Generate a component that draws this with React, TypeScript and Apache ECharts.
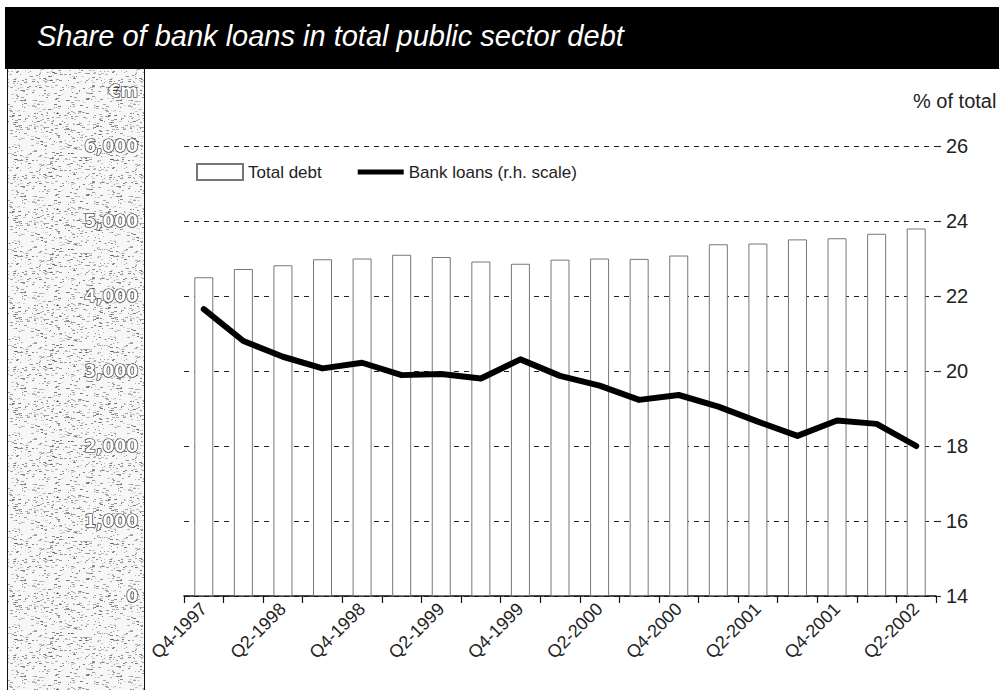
import { useEffect, useRef } from 'react';
import * as echarts from 'echarts';

const categories = [
  'Q4-1997', 'Q1-1998', 'Q2-1998', 'Q3-1998', 'Q4-1998', 'Q1-1999', 'Q2-1999',
  'Q3-1999', 'Q4-1999', 'Q1-2000', 'Q2-2000', 'Q3-2000', 'Q4-2000', 'Q1-2001',
  'Q2-2001', 'Q3-2001', 'Q4-2001', 'Q1-2002', 'Q2-2002',
];
const totalDebt = [
  4250, 4360, 4410, 4490, 4500, 4550, 4520, 4460, 4430, 4485,
  4500, 4495, 4540, 4690, 4700, 4755, 4770, 4830, 4900,
];
const bankLoansShare = [
  21.65, 20.8, 20.38, 20.07, 20.22, 19.89, 19.92, 19.8, 20.31, 19.87,
  19.61, 19.23, 19.36, 19.05, 18.65, 18.27, 18.68, 18.59, 18.0,
];
const leftTickLabels = ['0', '1,000', '2,000', '3,000', '4,000', '5,000', '6,000'];
const rightTickLabels = ['14', '16', '18', '20', '22', '24', '26'];

const titleText = 'Share of bank loans in total public sector debt';
const leftUnit = '€m';
const rightUnit = '% of total';
const barName = 'Total debt';
const lineName = 'Bank loans (r.h. scale)';

function makeSpeckle(): string {
  const size = 96;
  const c = document.createElement('canvas');
  c.width = size;
  c.height = size;
  const ctx = c.getContext('2d');
  if (!ctx) return '';
  ctx.fillStyle = '#f7f7f7';
  ctx.fillRect(0, 0, size, size);
  let s = 20240607;
  const next = () => {
    s = (Math.imul(s, 1103515245) + 12345) & 0x7fffffff;
    return s / 0x7fffffff;
  };
  ctx.fillStyle = '#444';
  for (let k = 0; k < 650; k++) {
    const x = Math.floor(next() * size);
    const y = Math.floor(next() * size);
    const w = 1 + Math.floor(next() * 3);
    ctx.globalAlpha = 0.2 + 0.5 * next();
    ctx.fillRect(x, y, w, 1);
  }
  return c.toDataURL();
}

const outlinedLabel = {
  fontFamily: 'DejaVu Sans',
  fontWeight: 'bold' as const,
  fontSize: 17,
  color: '#ffffff',
  textBorderColor: '#111111',
  textBorderWidth: 1.2,
};

export default function App() {
  const ref = useRef<HTMLDivElement>(null);

  useEffect(() => {
    if (!ref.current) return;
    const chart = echarts.init(ref.current, undefined, { renderer: 'svg' });
    const speckle = makeSpeckle();

    chart.setOption({
      animation: false,
      backgroundColor: '#ffffff',
      textStyle: { fontFamily: 'Liberation Sans' },
      grid: {
        left: 184,
        right: 63,
        top: 146,
        bottom: 94,
        containLabel: false,
        outerBoundsMode: 'none',
      },
      legend: {
        left: 196,
        top: 163,
        padding: 0,
        itemWidth: 46,
        itemHeight: 16,
        itemGap: 36,
        selectedMode: false,
        textStyle: { fontSize: 17, color: '#222', fontFamily: 'Liberation Sans' },
        data: [
          { name: barName, icon: 'rect' },
          { name: lineName, icon: 'path://M0,0H48V5H0Z' },
        ],
      },
      xAxis: {
        type: 'category',
        data: categories,
        boundaryGap: true,
        axisLine: { show: true, lineStyle: { color: '#111', width: 1.5 } },
        axisTick: { show: true, interval: 0, length: 7, lineStyle: { color: '#111', width: 1.2 } },
        axisLabel: {
          interval: 1,
          rotate: 45,
          fontSize: 18,
          color: '#222',
          margin: 10,
          fontFamily: 'Liberation Sans',
        },
        splitLine: { show: false },
      },
      yAxis: [
        {
          type: 'value',
          position: 'left',
          min: 0,
          max: 6000,
          interval: 1000,
          name: leftUnit,
          nameLocation: 'end',
          nameGap: 47,
          nameTextStyle: { ...outlinedLabel, align: 'right', padding: [0, 46, 0, 0] },
          axisLine: { show: false },
          axisTick: { show: false },
          axisLabel: {
            ...outlinedLabel,
            margin: 46,
            formatter: (v: number) => leftTickLabels[Math.round(v / 1000)] ?? '',
          },
          splitLine: {
            show: true,
            lineStyle: { type: [5, 5], color: '#222', width: 1.2 },
          },
        },
        {
          type: 'value',
          position: 'right',
          min: 14,
          max: 26,
          interval: 2,
          axisLine: { show: false },
          axisTick: { show: true, length: 5, lineStyle: { color: '#333', width: 1.2 } },
          axisLabel: {
            fontSize: 20,
            color: '#222',
            margin: 10,
            fontFamily: 'Liberation Sans',
            formatter: (v: number) => rightTickLabels[Math.round((v - 14) / 2)] ?? '',
          },
          splitLine: { show: false },
        },
      ],
      series: [
        {
          name: barName,
          type: 'bar',
          data: totalDebt,
          barWidth: 19,
          itemStyle: { color: '#ffffff', borderColor: '#777', borderWidth: 1 },
          z: 2,
        },
        {
          name: lineName,
          type: 'line',
          yAxisIndex: 1,
          data: bankLoansShare,
          symbol: 'none',
          lineStyle: { color: '#000', width: 6, join: 'round', cap: 'round' },
          itemStyle: { color: '#000' },
          z: 3,
        },
      ],
      graphic: [
        {
          type: 'rect',
          z: -10,
          shape: { x: 7, y: 69, width: 137, height: 621 },
          style: speckle
            ? { fill: { image: speckle, repeat: 'repeat', imageWidth: 96, imageHeight: 96 } }
            : { fill: '#dcdcdc' },
        },
        {
          type: 'line',
          z: -9,
          shape: { x1: 7.5, y1: 69, x2: 7.5, y2: 690 },
          style: { stroke: '#111', lineWidth: 1 },
        },
        {
          type: 'line',
          z: -9,
          shape: { x1: 144.5, y1: 69, x2: 144.5, y2: 690 },
          style: { stroke: '#111', lineWidth: 1 },
        },
        {
          type: 'rect',
          z: -8,
          shape: { x: 5, y: 7, width: 994, height: 62 },
          style: { fill: '#000' },
        },
        {
          type: 'text',
          z: -7,
          x: 37,
          y: 36,
          style: {
            text: titleText,
            fill: '#fff',
            fontSize: 29,
            fontStyle: 'italic',
            fontFamily: 'Liberation Sans',
            verticalAlign: 'middle',
          },
        },
        {
          type: 'text',
          x: 913,
          y: 101,
          style: {
            text: rightUnit,
            fill: '#222',
            fontSize: 20,
            fontFamily: 'Liberation Sans',
            verticalAlign: 'middle',
          },
        },
      ],
    });

    return () => {
      chart.dispose();
    };
  }, []);

  return (
    <div
      ref={ref}
      style={{ position: 'absolute', left: 0, top: 0, width: 999, height: 690 }}
    />
  );
}
